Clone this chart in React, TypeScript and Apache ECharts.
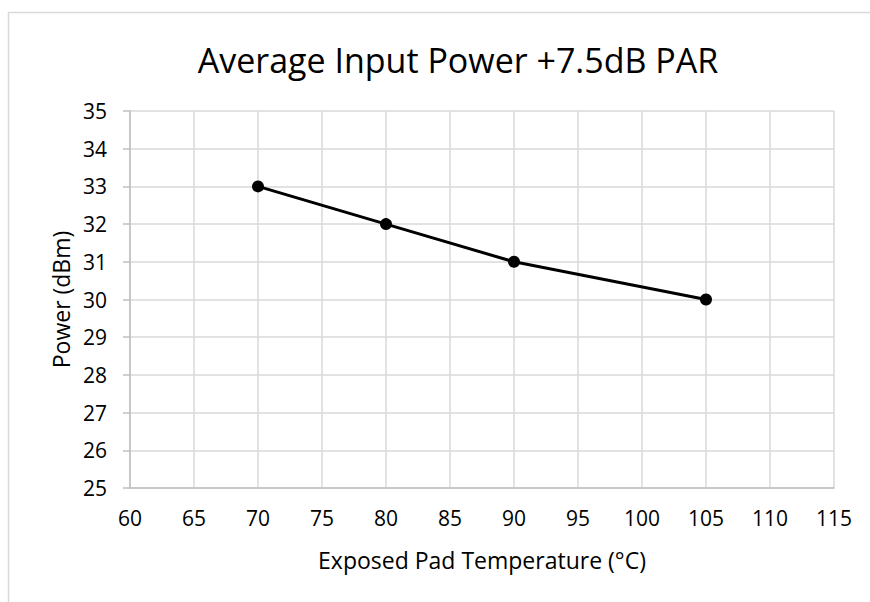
import React, { useEffect, useRef } from "react";
import * as echarts from "echarts";

const TITLE = "Average Input Power +7.5dB PAR";
const X_NAME = "Exposed Pad Temperature (°C)";
const Y_NAME = "Power (dBm)";
const temperatures = [70, 80, 90, 105];
const powers = [33, 32, 31, 30];

const FONT = "'Open Sans', 'Noto Sans', sans-serif";

export default function App() {
  const ref = useRef<HTMLDivElement>(null);
  useEffect(() => {
    document.body.style.margin = "0";
    const chart = echarts.init(ref.current!, null, { renderer: "svg" });
    chart.setOption({
      animation: false,
      backgroundColor: "#ffffff",
      graphic: [
        {
          type: "rect",
          shape: { x: 8.5, y: 12.5, width: 900, height: 700 },
          style: { fill: "none", stroke: "#d9d9d9", lineWidth: 1.5 },
          silent: true,
        },
        {
          type: "text",
          x: 458,
          y: 60,
          style: {
            text: TITLE,
            fontFamily: FONT,
            fontSize: 34,
            fill: "#000",
            align: "center",
            verticalAlign: "middle",
          },
          silent: true,
        },
      ],
      grid: { left: 130, right: 36, top: 111, bottom: 114 },
      xAxis: {
        type: "value",
        min: 60,
        max: 115,
        interval: 5,
        name: X_NAME,
        nameLocation: "middle",
        nameGap: 60,
        nameTextStyle: { fontFamily: FONT, fontSize: 23, color: "#000" },
        axisLine: { show: true, lineStyle: { color: "#bfbfbf", width: 1.5 } },
        axisTick: { show: false },
        axisLabel: { fontFamily: FONT, fontSize: 21, color: "#000", margin: 19 },
        splitLine: { show: true, lineStyle: { color: "#d9d9d9", width: 1.5 } },
      },
      yAxis: {
        type: "value",
        min: 25,
        max: 35,
        interval: 1,
        name: Y_NAME,
        nameLocation: "middle",
        nameGap: 57,
        nameTextStyle: { fontFamily: FONT, fontSize: 23, color: "#000" },
        axisLine: { show: true, lineStyle: { color: "#bfbfbf", width: 1.5 } },
        axisTick: { show: true, length: 7, lineStyle: { color: "#bfbfbf", width: 1.5 } },
        axisLabel: { fontFamily: FONT, fontSize: 21, color: "#000", margin: 23 },
        splitLine: { show: true, lineStyle: { color: "#d9d9d9", width: 1.5 } },
      },
      series: [
        {
          type: "line",
          data: temperatures.map((t, i) => [t, powers[i]]),
          lineStyle: { color: "#000", width: 3 },
          itemStyle: { color: "#000" },
          symbol: "circle",
          symbolSize: 12,
        },
      ],
    });
    return () => chart.dispose();
  }, []);
  return <div ref={ref} style={{ width: 870, height: 602 }} />;
}
